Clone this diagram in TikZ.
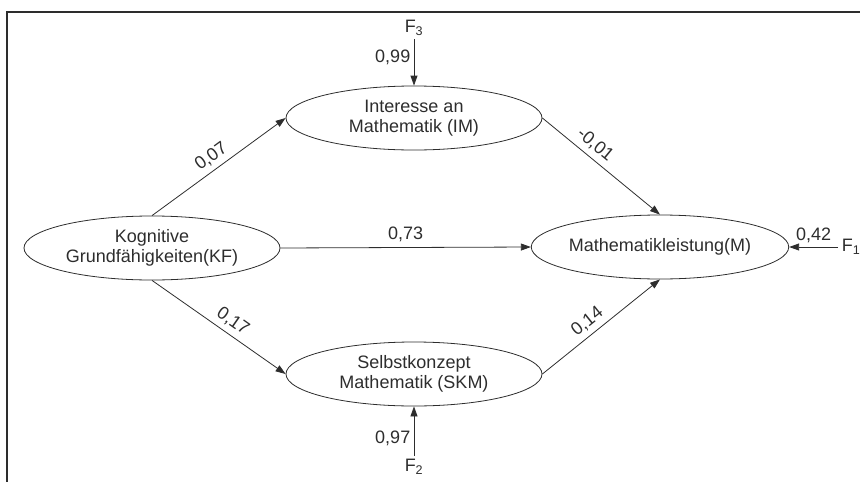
\documentclass[tikz,border=0pt]{standalone}
\usepackage{fontspec}
\setmainfont{Liberation Sans}
\usetikzlibrary{shapes.geometric,arrows.meta}
\definecolor{linegray}{RGB}{45,45,45}
\begin{document}
\begin{tikzpicture}[x=1pt, y=-1pt, font=\fontsize{18}{20}\selectfont, text=linegray]
\tikzstyle{latent}=[draw=linegray, line width=0.8pt, ellipse, minimum width=256, minimum height=64, inner sep=0pt, align=center]
\tikzstyle{path}=[draw=linegray, line width=0.8pt, -{Triangle[length=10pt, width=7pt]}]
\tikzstyle{coef}=[sloped, above, inner sep=5pt]
\useasboundingbox (0,0) rectangle (860,482);
% frame
\draw[linegray, line width=1.3pt] (7,482) -- (7,12) -- (860,12);
% latent variables
\node[latent] (kf) at (152,248) {Kognitive\\Grundfähigkeiten(KF)};
\node[latent] (im) at (414,118) {Interesse an\\Mathematik (IM)};
\node[latent] (skm) at (414,374) {Selbstkonzept\\Mathematik (SKM)};
\node[latent] (m) at (660,247) {Mathematikleistung(M)};
% residuals
\node (f3) at (414,28) {F\textsubscript{3}};
\node (f2) at (414,467) {F\textsubscript{2}};
\node (f1) at (851,247) {F\textsubscript{1}};
% paths
\draw[path] (kf.north) -- (im.west) node[coef, pos=0.5] {0,07};
\draw[path] (kf.south) -- (skm.west) node[coef, pos=0.55] {0,17};
\draw[path] (kf.east) -- (m.west) node[above, midway, inner sep=5pt] {0,73};
\draw[path] (im.east) -- (m.north) node[coef, pos=0.38] {-0,01};
\draw[path] (skm.east) -- (m.south) node[coef, pos=0.45] {0,14};
\draw[path] (f3) -- (im.north) node[left, pos=0.4] {0,99};
\draw[path] (f2) -- (skm.south) node[left, pos=0.35] {0,97};
\draw[path] (f1) -- (m.east) node[above, midway, inner sep=4pt] {0,42};
\end{tikzpicture}
\end{document}
